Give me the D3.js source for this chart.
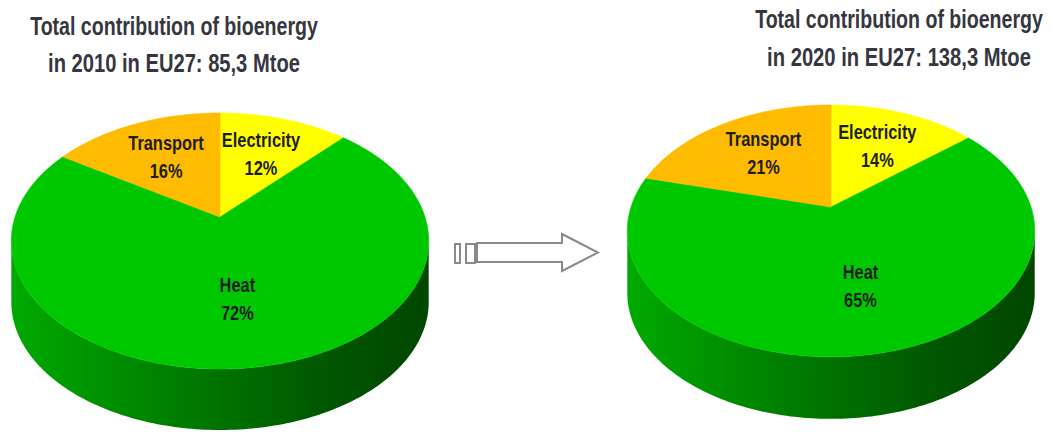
<!DOCTYPE html>
<html>
<head>
<meta charset="utf-8">
<script src="https://cdn.jsdelivr.net/npm/d3@7"></script>
<style>
  html, body { margin: 0; padding: 0; background: #fff; }
  svg { display: block; }
  .title { font-family: 'Liberation Sans', 'DejaVu Sans', sans-serif; fill: #363640; font-weight: bold; }
  .label { font-family: 'Liberation Sans', 'DejaVu Sans', sans-serif; fill: #1e1e1e; font-weight: bold; }
</style>
</head>
<body>
<svg id="chart" width="1053" height="435"></svg>
<script>
// data
const categories = ['Electricity', 'Heat', 'Transport'];
const shares2010 = [12, 72, 16];
const shares2020 = [14, 65, 21];
const title2010 = ['Total contribution of bioenergy', 'in 2010 in EU27: 85,3 Mtoe'];
const title2020 = ['Total contribution of bioenergy', 'in 2020 in EU27: 138,3 Mtoe'];

const colors = d3.scaleOrdinal()
  .domain(categories)
  .range(['#ffff00', '#00c800', '#ffbb00']);

const svg = d3.select('#chart');
const defs = svg.append('defs');

// pie layouts: center of the top face, radii, perspective factor, wall depth
const pies = [
  {
    id: 'p2010', shares: shares2010, title: title2010,
    cx: 220, cy: 217, rx: 205, ry: 123.5, k: 0.1875, depth: 61,
    titleX: 174, titleY: [35, 72], titleW: [288, 252],
  },
  {
    id: 'p2020', shares: shares2020, title: title2020,
    cx: 831, cy: 207, rx: 200, ry: 121.4, k: 0.19, depth: 62,
    titleX: 899, titleY: [28, 66], titleW: [288, 264],
  },
];

const pie = d3.pie().sort(null).value((d) => d.value);
const line = d3.line();

// perspective projection of a point on the unit disc (angle a, radius fraction f)
const project = (p, a, f, dy = 0) => {
  const X = Math.sin(a) * f;
  const Y = -Math.cos(a) * f;
  const w = 1 - p.k * Y;
  return [p.cx + (p.rx * X) / w, p.cy + (p.ry * Y) / w + dy];
};

const arcPoints = (p, a0, a1, dy = 0) => {
  const n = Math.max(8, Math.ceil(((a1 - a0) * 180) / Math.PI));
  return d3.range(n + 1).map((i) => project(p, a0 + ((a1 - a0) * i) / n, 1, dy));
};

pies.forEach((p) => {
  const hw = p.rx / Math.sqrt(1 - p.k * p.k);
  const grad = defs.append('linearGradient')
    .attr('id', `side-${p.id}`)
    .attr('gradientUnits', 'userSpaceOnUse')
    .attr('x1', p.cx - hw).attr('x2', p.cx + hw)
    .attr('y1', 0).attr('y2', 0);
  [[0, '#00aa00'], [0.26, '#008c00'], [0.5, '#007200'], [0.74, '#005800'], [1, '#004600']]
    .forEach(([o, c]) => grad.append('stop').attr('offset', o).attr('stop-color', c));

  const g = svg.append('g').attr('class', p.id);

  // side wall: front arc of the top face between the silhouette points, then bottom arc
  const aR = Math.acos(-p.k);
  const aL = 2 * Math.PI - aR;
  const top = arcPoints(p, aR, aL);
  const bottom = arcPoints(p, aR, aL, p.depth).reverse();
  g.append('path')
    .attr('d', line(top.concat(bottom)) + 'Z')
    .attr('fill', `url(#side-${p.id})`);

  const slices = pie(categories.map((c, i) => ({ name: c, value: p.shares[i] })));

  g.selectAll('.slice')
    .data(slices)
    .join('path')
    .attr('class', 'slice')
    .attr('d', (d) => line([[p.cx, p.cy]].concat(arcPoints(p, d.startAngle, d.endAngle))) + 'Z')
    .attr('fill', (d) => colors(d.data.name))
    .attr('stroke', (d) => colors(d.data.name))
    .attr('stroke-width', 0.6);

  // labels: two lines, squeezed horizontally to look like the narrow original face
  slices.forEach((d) => {
    const [x, y] = project(p, (d.startAngle + d.endAngle) / 2, 0.6);
    [d.data.name, `${d.data.value}%`].forEach((s, i) => {
      g.append('text')
        .attr('class', 'label')
        .attr('text-anchor', 'middle')
        .attr('transform', `translate(${x},${y - 8 + i * 28}) scale(0.82,1)`)
        .style('font-size', '20px')
        .text(s);
    });
  });

  p.title.forEach((s, i) => {
    const t = g.append('text')
      .attr('class', 'title')
      .attr('text-anchor', 'middle')
      .style('font-size', '25px')
      .text(s);
    const sx = p.titleW[i] / t.node().getComputedTextLength();
    t.attr('transform', `translate(${p.titleX},${p.titleY[i]}) scale(${sx},1)`);
  });
});

// arrow between the two pies
const arrow = svg.append('g')
  .attr('fill', '#fff')
  .attr('stroke', '#8a8a8a')
  .attr('stroke-width', 2);
arrow.append('rect').attr('x', 455).attr('y', 244).attr('width', 5).attr('height', 19);
arrow.append('rect').attr('x', 466).attr('y', 244).attr('width', 9).attr('height', 19);
arrow.append('path')
  .attr('d', 'M477,243 L562,243 L562,234 L598,252.5 L562,271 L562,262 L477,262 Z')
  .attr('stroke-linejoin', 'miter');
</script>
</body>
</html>
